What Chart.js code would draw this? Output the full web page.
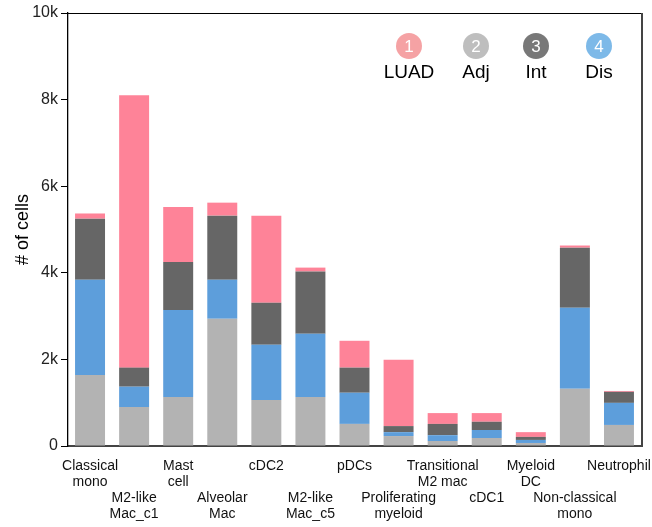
<!DOCTYPE html>
<html>
<head>
<meta charset="utf-8">
<script src="https://cdn.jsdelivr.net/npm/chart.js@4"></script>
<style>
  body { margin: 0; background: #fff; }
</style>
</head>
<body>
<canvas id="chart" width="652" height="527"></canvas>
<script>
// cell types (two-line labels), drawn staggered on two rows
const categories = [
  ['Classical', 'mono'], ['M2-like', 'Mac_c1'], ['Mast', 'cell'], ['Alveolar', 'Mac'],
  ['cDC2'], ['M2-like', 'Mac_c5'], ['pDCs'], ['Proliferating', 'myeloid'],
  ['Transitional', 'M2 mac'], ['cDC1'], ['Myeloid', 'DC'], ['Non-classical', 'mono'], ['Neutrophil']
]

// stacked from bottom: Adj, Dis, Int, LUAD
const adjValues  = [1640, 900, 1130, 2940, 1065, 1130, 510, 230, 115, 185, 70, 1320, 486]
const disValues  = [2200, 470, 2010, 900, 1275, 1460, 720, 90, 135, 185, 70, 1870, 510]
const intValues  = [1410, 440, 1110, 1480, 970, 1440, 580, 140, 260, 190, 70, 1390, 255]
const luadValues = [120, 6290, 1270, 300, 2010, 90, 620, 1530, 250, 200, 110, 50, 20]

const yTicks = [0, 2000, 4000, 6000, 8000, 10000]
const legendNames = ['LUAD', 'Adj', 'Int', 'Dis']

const FONT = '"Liberation Sans", Arial, Helvetica, sans-serif'

const xLabels = categories.map((c, i) => i % 2 === 1 ? ['', '', ...c] : c)

const legendColors = ['#f5a2a4', '#bebebe', '#787878', '#7db9e8']
const legendX = [409, 476, 536, 599]

const framePlugin = {
  id: 'frame',
  afterDraw(chart) {
    const { ctx, chartArea: { left, right, top, bottom } } = chart
    ctx.save()
    ctx.strokeStyle = '#000'
    ctx.lineWidth = 1
    ctx.beginPath()
    ctx.moveTo(left, top + 0.5)
    ctx.lineTo(right + 1, top + 0.5)
    ctx.stroke()
    ctx.strokeStyle = '#444'
    ctx.lineWidth = 2
    ctx.beginPath()
    ctx.moveTo(right + 1, top)
    ctx.lineTo(right + 1, bottom + 1)
    ctx.stroke()

    // numbered legend
    ctx.textAlign = 'center'
    ctx.textBaseline = 'middle'
    for (let i = 0; i < legendNames.length; i++) {
      ctx.fillStyle = legendColors[i]
      ctx.beginPath()
      ctx.arc(legendX[i], 46, 13, 0, Math.PI * 2)
      ctx.fill()
      ctx.fillStyle = '#fff'
      ctx.font = '17px ' + FONT
      ctx.fillText(String(i + 1), legendX[i], 47)
      ctx.fillStyle = '#000'
      ctx.font = '19px ' + FONT
      ctx.fillText(legendNames[i], legendX[i], 73)
    }
    ctx.restore()
  }
}

const ds = (label, data, color) => ({
  label: label,
  data: data,
  backgroundColor: color,
  barPercentage: 0.68,
  categoryPercentage: 1
})

new Chart('chart', {
  type: 'bar',
  data: {
    labels: xLabels,
    datasets: [
      ds('Adj', adjValues, '#b3b3b3'),
      ds('Dis', disValues, '#5d9edb'),
      ds('Int', intValues, '#666666'),
      ds('LUAD', luadValues, '#fe8398')
    ]
  },
  options: {
    responsive: false,
    animation: false,
    devicePixelRatio: 1,
    layout: { padding: { left: 0, right: 11, top: 13, bottom: 0 } },
    plugins: {
      legend: { display: false },
      tooltip: { enabled: false }
    },
    scales: {
      x: {
        stacked: true,
        grid: { display: false },
        border: { display: true, color: '#444', width: 2 },
        ticks: {
          autoSkip: false,
          maxRotation: 0,
          minRotation: 0,
          padding: 4,
          color: '#111',
          font: { family: FONT, size: 14, lineHeight: 1.15 }
        },
        afterFit(scale) {
          scale.height = 81
          scale.paddingLeft = 0
          scale.paddingRight = 0
        }
      },
      y: {
        stacked: true,
        min: 0,
        max: 10000,
        afterBuildTicks(scale) { scale.ticks = yTicks.map(v => ({ value: v })) },
        grid: { drawOnChartArea: false, drawTicks: true, tickLength: 7, color: '#000' },
        border: { display: true, color: '#000', width: 1.3 },
        ticks: {
          padding: 3,
          color: '#222',
          font: { family: FONT, size: 16 },
          callback: v => v === 0 ? '0' : (v / 1000) + 'k'
        },
        title: {
          display: true,
          text: '# of cells',
          color: '#000',
          padding: { top: 12, bottom: 0 },
          font: { family: FONT, size: 18 }
        },
        afterFit(scale) { scale.width = 68 }
      }
    }
  },
  plugins: [framePlugin]
})
</script>
</body>
</html>
